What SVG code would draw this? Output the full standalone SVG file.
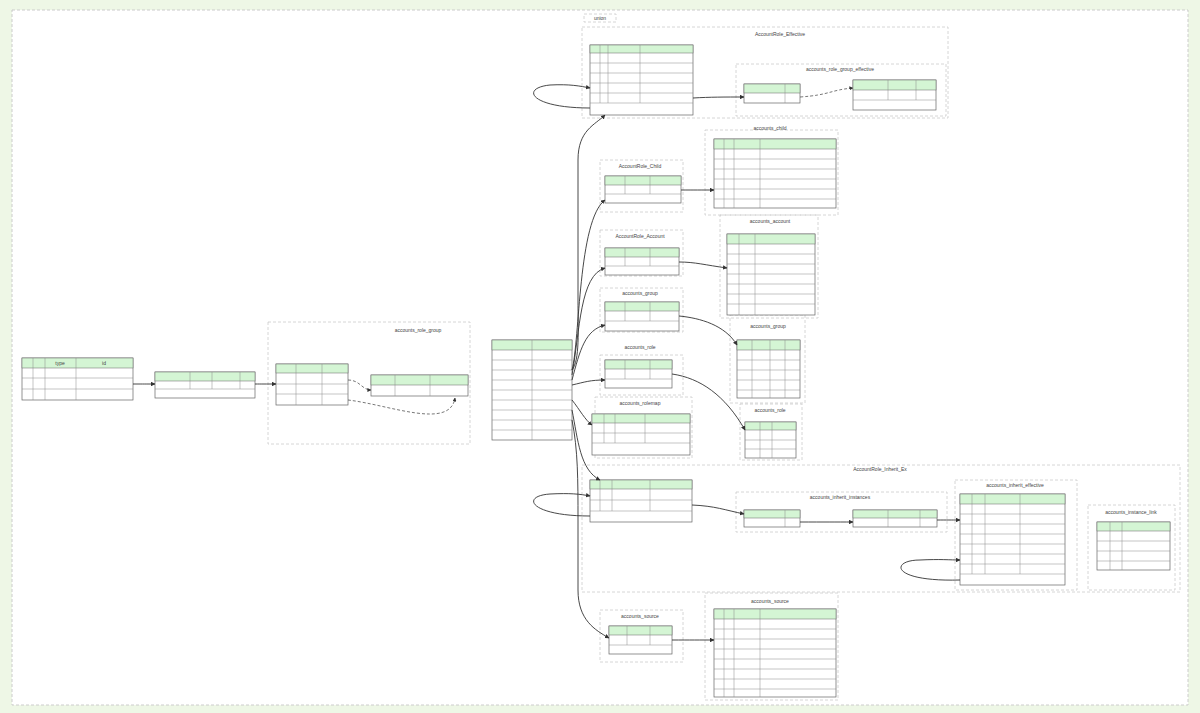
<svg xmlns="http://www.w3.org/2000/svg" width="1200" height="713" viewBox="0 0 1200 713">
<style>
.t{fill:#fff;stroke:#666;stroke-width:.7}
.h{fill:#d4f5d4;stroke:#666;stroke-width:.5}
.g{fill:none;stroke:#888;stroke-width:.5}
.c{fill:none;stroke:#ccc;stroke-width:.8;stroke-dasharray:3,2}
.e{fill:none;stroke:#333;stroke-width:.9}
.d{fill:none;stroke:#555;stroke-width:.8;stroke-dasharray:3,2}
.l{font-family:"Liberation Sans",Arial,sans-serif;font-size:5px;fill:#444;text-anchor:middle}
</style>
<defs><marker id="a" viewBox="0 0 10 10" refX="9" refY="5" markerWidth="5" markerHeight="5" orient="auto"><path d="M0,0L10,5L0,10z" fill="#333"/></marker></defs>
<rect width="1200" height="713" fill="#eef7e6"/>
<rect x="12" y="10" width="1176" height="695" fill="#fff" stroke="#ccc" stroke-dasharray="3,2"/>
<g id="clusters">
<rect class="c" x="268" y="322" width="202" height="122"/><text class="l" x="418" y="332">accounts_role_group</text>
<rect class="c" x="582" y="27" width="366" height="91"/><text class="l" x="780" y="36">AccountRole_Effective</text>
<rect class="c" x="584" y="14" width="32" height="8"/><text class="l" x="600" y="20">union</text>
<rect class="c" x="736" y="64" width="210" height="52"/><text class="l" x="840" y="71">accounts_role_group_effective</text>
<rect class="c" x="600" y="160" width="83" height="52"/><text class="l" x="640" y="168">AccountRole_Child</text>
<rect class="c" x="705" y="130" width="133" height="85"/><text class="l" x="770" y="130">accounts_child</text>
<rect class="c" x="600" y="230" width="83" height="46"/><text class="l" x="640" y="238">AccountRole_Account</text>
<rect class="c" x="720" y="215" width="98" height="103"/><text class="l" x="770" y="223">accounts_account</text>
<rect class="c" x="600" y="288" width="83" height="44"/><text class="l" x="640" y="295">accounts_group</text>
<rect class="c" x="730" y="315" width="75" height="88"/><text class="l" x="768" y="328">accounts_group</text>
<rect class="c" x="600" y="355" width="83" height="40"/><text class="l" x="640" y="349">accounts_role</text>
<rect class="c" x="595" y="397" width="97" height="61"/><text class="l" x="640" y="405">accounts_rolemap</text>
<rect class="c" x="740" y="404" width="62" height="56"/><text class="l" x="770" y="412">accounts_role</text>
<rect class="c" x="582" y="465" width="598" height="127"/><text class="l" x="880" y="471">AccountRole_Inherit_Ex</text>
<rect class="c" x="736" y="492" width="211" height="40"/><text class="l" x="840" y="499">accounts_inherit_instances</text>
<rect class="c" x="955" y="480" width="122" height="110"/><text class="l" x="1015" y="487">accounts_inherit_effective</text>
<rect class="c" x="1088" y="505" width="87" height="85"/><text class="l" x="1131" y="514">accounts_instance_link</text>
<rect class="c" x="600" y="610" width="83" height="52"/><text class="l" x="640" y="618">accounts_source</text>
<rect class="c" x="705" y="593" width="133" height="107"/><text class="l" x="770" y="603">accounts_source</text>
</g>
<g id="t1"><rect class="t" x="22" y="358" width="111" height="42"/><rect class="h" x="22" y="358" width="111" height="10"/><path class="g" d="M22,378H133M22,389H133M33,358V400M45,358V400M76,358V400"/><text class="l" x="60" y="365">type</text><text class="l" x="104" y="365">id</text></g>
<g id="t2"><rect class="t" x="155" y="372" width="100" height="26"/><rect class="h" x="155" y="372" width="100" height="9"/><path class="g" d="M155,389H255M190,372V389M212,372V389M240,372V389"/></g>
<g id="t3"><rect class="t" x="276" y="364" width="72" height="41"/><rect class="h" x="276" y="364" width="72" height="9"/><path class="g" d="M276,384H348M276,394H348M296,364V405M322,364V405"/></g>
<g id="t4"><rect class="t" x="371" y="375" width="97" height="21"/><rect class="h" x="371" y="375" width="97" height="10"/><path class="g" d="M395,375V396M430,375V396"/></g>
<g id="t5"><rect class="t" x="492" y="340" width="80" height="100"/><rect class="h" x="492" y="340" width="80" height="10"/><path class="g" d="M492,360H572M492,370H572M492,380H572M492,390H572M492,400H572M492,410H572M492,420H572M492,430H572M532,340V440"/></g>
<g id="t6"><rect class="t" x="590" y="45" width="103" height="70"/><rect class="h" x="590" y="45" width="103" height="8"/><path class="g" d="M590,63H693M590,73H693M590,83H693M590,93H693M590,103H693M600,45V103M608,45V103M640,45V103"/></g>
<g id="t7"><rect class="t" x="744" y="84" width="56" height="19"/><rect class="h" x="744" y="84" width="56" height="9"/><path class="g" d="M785,84V103"/></g>
<g id="t8"><rect class="t" x="853" y="80" width="83" height="30"/><rect class="h" x="853" y="80" width="83" height="10"/><path class="g" d="M853,100H936M888,80V100M916,80V100"/></g>
<g id="t9"><rect class="t" x="605" y="176" width="76" height="27"/><rect class="h" x="605" y="176" width="76" height="9"/><path class="g" d="M605,194H681M625,176V194M650,176V194"/></g>
<g id="t10"><rect class="t" x="714" y="139" width="122" height="69"/><rect class="h" x="714" y="139" width="122" height="10"/><path class="g" d="M714,159H836M714,169H836M714,179H836M714,189H836M714,199H836M724,139V208M734,139V208M760,139V208"/></g>
<g id="t11"><rect class="t" x="605" y="248" width="74" height="27"/><rect class="h" x="605" y="248" width="74" height="9"/><path class="g" d="M605,266H679M625,248V266M650,248V266"/></g>
<g id="t12"><rect class="t" x="727" y="234" width="88" height="81"/><rect class="h" x="727" y="234" width="88" height="10"/><path class="g" d="M727,254H815M727,264H815M727,274H815M727,284H815M727,294H815M727,304H815M739,234V315M755,234V315"/></g>
<g id="t13"><rect class="t" x="605" y="302" width="74" height="29"/><rect class="h" x="605" y="302" width="74" height="9"/><path class="g" d="M605,321H679M625,302V321M650,302V321"/></g>
<g id="t14"><rect class="t" x="737" y="340" width="63" height="58"/><rect class="h" x="737" y="340" width="63" height="10"/><path class="g" d="M737,360H800M737,370H800M737,380H800M737,390H800M752,340V398M770,340V398M785,340V398"/></g>
<g id="t15"><rect class="t" x="605" y="360" width="67" height="28"/><rect class="h" x="605" y="360" width="67" height="9"/><path class="g" d="M605,379H672M625,360V379M650,360V379"/></g>
<g id="t16"><rect class="t" x="592" y="414" width="98" height="41"/><rect class="h" x="592" y="414" width="98" height="9"/><path class="g" d="M592,433H690M592,443H690M604,414V443M615,414V443M645,414V443"/></g>
<g id="t17"><rect class="t" x="745" y="422" width="51" height="36"/><rect class="h" x="745" y="422" width="51" height="8"/><path class="g" d="M745,440H796M745,449H796M760,422V458M772,422V458"/></g>
<g id="t18"><rect class="t" x="590" y="480" width="102" height="42"/><rect class="h" x="590" y="480" width="102" height="9"/><path class="g" d="M590,500H692M590,511H692M600,480V511M612,480V511M650,480V511"/></g>
<g id="t19"><rect class="t" x="744" y="510" width="56" height="17"/><rect class="h" x="744" y="510" width="56" height="8"/><path class="g" d="M785,510V527"/></g>
<g id="t20"><rect class="t" x="853" y="510" width="84" height="17"/><rect class="h" x="853" y="510" width="84" height="8"/><path class="g" d="M888,510V527M920,510V527"/></g>
<g id="t21"><rect class="t" x="960" y="494" width="105" height="91"/><rect class="h" x="960" y="494" width="105" height="10"/><path class="g" d="M960,514H1065M960,524H1065M960,534H1065M960,544H1065M960,554H1065M960,564H1065M960,574H1065M972,494V574M985,494V574M1020,494V574"/></g>
<g id="t22"><rect class="t" x="1097" y="522" width="73" height="48"/><rect class="h" x="1097" y="522" width="73" height="9"/><path class="g" d="M1097,541H1170M1097,551H1170M1097,561H1170M1110,522V570M1122,522V570"/></g>
<g id="t23"><rect class="t" x="609" y="626" width="63" height="28"/><rect class="h" x="609" y="626" width="63" height="9"/><path class="g" d="M609,645H672M627,626V645M650,626V645"/></g>
<g id="t24"><rect class="t" x="714" y="609" width="122" height="88"/><rect class="h" x="714" y="609" width="122" height="10"/><path class="g" d="M714,629H836M714,639H836M714,649H836M714,659H836M714,669H836M714,679H836M714,689H836M724,609V697M734,609V697M760,609V697"/></g>
<g id="connectors">
<path class="e" marker-end="url(#a)" d="M133,384C145,384 145,384 155,384"/>
<path class="e" marker-end="url(#a)" d="M255,384C262,384 265,384 276,384"/>
<path class="d" marker-end="url(#a)" d="M348,380C360,380 362,390 371,390"/>
<path class="d" marker-end="url(#a)" d="M348,400C390,405 450,430 455,398"/>
<path class="e" marker-end="url(#a)" d="M572,370C580,360 578,330 578,300L578,160C578,130 595,125 605,115"/>
<path class="e" marker-end="url(#a)" d="M572,370C580,340 578,220 605,200"/>
<path class="e" marker-end="url(#a)" d="M572,375C580,330 580,275 605,268"/>
<path class="e" marker-end="url(#a)" d="M572,380C580,350 585,330 605,325"/>
<path class="e" marker-end="url(#a)" d="M572,385C585,382 590,380 605,380"/>
<path class="e" marker-end="url(#a)" d="M572,400C580,410 585,420 592,425"/>
<path class="e" marker-end="url(#a)" d="M572,410C578,440 580,470 600,480"/>
<path class="e" marker-end="url(#a)" d="M572,420C578,450 578,480 578,520L578,590C578,620 595,630 609,638"/>
<path class="e" marker-end="url(#a)" d="M590,108C530,108 520,88 550,85C570,84 580,86 590,88"/>
<path class="e" marker-end="url(#a)" d="M693,98C710,97 725,97 744,97"/>
<path class="d" marker-end="url(#a)" d="M800,97C830,95 830,90 853,88"/>
<path class="e" marker-end="url(#a)" d="M681,190C695,190 700,190 714,190"/>
<path class="e" marker-end="url(#a)" d="M679,262C695,262 705,265 727,268"/>
<path class="e" marker-end="url(#a)" d="M679,316C700,318 725,325 737,345"/>
<path class="e" marker-end="url(#a)" d="M672,374C700,378 725,395 745,430"/>
<path class="e" marker-end="url(#a)" d="M590,516C530,516 520,496 550,494C570,493 580,494 590,496"/>
<path class="e" marker-end="url(#a)" d="M692,505C715,506 725,510 744,514"/>
<path class="e" marker-end="url(#a)" d="M800,522C825,522 835,522 853,522"/>
<path class="e" marker-end="url(#a)" d="M937,520C948,520 950,520 960,520"/>
<path class="e" marker-end="url(#a)" d="M960,580C890,582 890,560 920,560C940,559 950,560 960,560"/>
<path class="e" marker-end="url(#a)" d="M672,640C690,640 700,640 714,640"/>
</g>
</svg>
